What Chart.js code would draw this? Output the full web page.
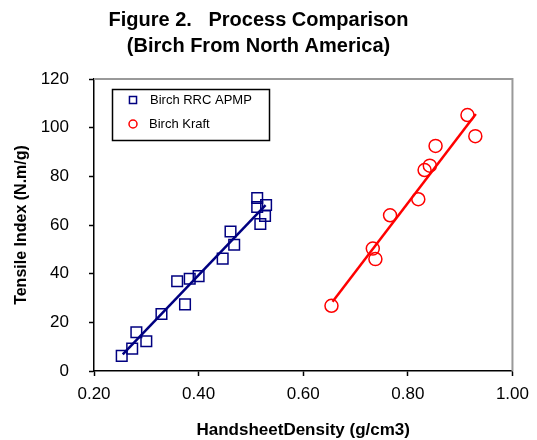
<!DOCTYPE html>
<html>
<head>
    <title>Process Comparison</title>
    <script src="https://cdn.jsdelivr.net/npm/chart.js@4.4.0/dist/chart.umd.min.js"></script>
    <style>
        body { margin: 0; background: #fff; }
        #wrap { width: 537px; height: 440px; }
    </style>
</head>
<body>
    <div id="wrap"><canvas id="chart"></canvas></div>

    <script>
        // Birch RRC APMP (density g/cm3, tensile N.m/g)
        var apmpDensity = [0.253, 0.273, 0.281, 0.300, 0.329, 0.374, 0.359, 0.383, 0.400, 0.446, 0.468, 0.461, 0.512, 0.529, 0.512, 0.527, 0.518];
        var apmpTensile = [6.2, 9.2, 15.9, 12.2, 23.4, 27.4, 36.9, 37.9, 39.0, 46.2, 51.9, 57.3, 71.1, 68.2, 67.4, 63.7, 60.4];
        var apmpFitX = [0.255, 0.528];
        var apmpFitY = [6.8, 68.2];

        // Birch Kraft
        var kraftDensity = [0.654, 0.733, 0.738, 0.766, 0.820, 0.832, 0.842, 0.853, 0.914, 0.929];
        var kraftTensile = [26.8, 50.3, 46.0, 64.0, 70.6, 82.6, 84.4, 92.5, 105.2, 96.5];
        var kraftFitX = [0.656, 0.930];
        var kraftFitY = [28.5, 105.6];

        var xTicks = [0.2, 0.4, 0.6, 0.8, 1.0];
        var yTicks = [0, 20, 40, 60, 80, 100, 120];

        var blue = '#000080';
        var red = '#ff0000';
        var font = '"Liberation Sans", Arial, sans-serif';

        function pts(xs, ys) {
            return xs.map(function (x, i) { return { x: x, y: ys[i] }; });
        }

        // grey frame on top and right of plot area
        var framePlugin = {
            id: 'frame',
            beforeDatasetsDraw: function (chart) {
                var a = chart.chartArea, c = chart.ctx;
                c.save();
                c.strokeStyle = '#999';
                c.lineWidth = 2;
                c.beginPath();
                c.moveTo(a.left, a.top);
                c.lineTo(a.right, a.top);
                c.lineTo(a.right, a.bottom);
                c.stroke();
                c.restore();
            }
        };

        // legend box inside the plot
        var legendPlugin = {
            id: 'boxLegend',
            afterDraw: function (chart) {
                var c = chart.ctx;
                var items = [
                    { label: 'Birch RRC APMP', ds: chart.data.datasets[0] },
                    { label: 'Birch Kraft', ds: chart.data.datasets[1] }
                ];
                c.save();
                c.fillStyle = '#fff';
                c.fillRect(112, 89, 158, 52);
                c.strokeStyle = '#000';
                c.lineWidth = 1.5;
                c.strokeRect(112.5, 89.5, 157, 51);
                c.font = '13px ' + font;
                c.textBaseline = 'middle';
                items.forEach(function (it, i) {
                    var y = 100 + i * 24;
                    c.fillStyle = 'rgba(0,0,0,0)';
                    c.strokeStyle = it.ds.borderColor;
                    c.lineWidth = 1.5;
                    Chart.helpers.drawPoint(c, {
                        pointStyle: it.ds.pointStyle,
                        radius: i === 0 ? 5 : 4,
                        borderWidth: 1.5
                    }, 133, y);
                    c.fillStyle = '#000';
                    c.fillText(it.label, i === 0 ? 150 : 149, y);
                });
                c.restore();
            }
        };

        var ctx = document.getElementById('chart').getContext('2d');
        var chart = new Chart(ctx, {
            type: 'scatter',
            data: {
                datasets: [{
                    label: 'Birch RRC APMP',
                    data: pts(apmpDensity, apmpTensile),
                    pointStyle: 'rect',
                    pointRadius: 7.5,
                    borderColor: blue,
                    borderWidth: 1.5,
                    backgroundColor: 'rgba(0,0,0,0)'
                }, {
                    label: 'Birch Kraft',
                    data: pts(kraftDensity, kraftTensile),
                    pointStyle: 'circle',
                    pointRadius: 6.5,
                    borderColor: red,
                    borderWidth: 1.5,
                    backgroundColor: 'rgba(0,0,0,0)'
                }, {
                    label: 'APMP fit',
                    data: pts(apmpFitX, apmpFitY),
                    showLine: true,
                    pointRadius: 0,
                    borderColor: blue,
                    borderWidth: 2.5
                }, {
                    label: 'Kraft fit',
                    data: pts(kraftFitX, kraftFitY),
                    showLine: true,
                    pointRadius: 0,
                    borderColor: red,
                    borderWidth: 2.5
                }]
            },
            options: {
                responsive: true,
                maintainAspectRatio: false,
                animation: false,
                layout: { padding: { left: 0, right: 20, top: 6, bottom: 0 } },
                plugins: {
                    legend: { display: false },
                    tooltip: { enabled: false },
                    title: {
                        display: true,
                        text: ['Figure 2.   Process Comparison', '(Birch From North America)'],
                        color: '#000',
                        font: { family: font, size: 20, weight: 'bold', lineHeight: 1.3 },
                        padding: { top: 1, bottom: 20 }
                    }
                },
                scales: {
                    x: {
                        type: 'linear',
                        min: 0.2,
                        max: 1.0,
                        afterBuildTicks: function (s) { s.ticks = xTicks.map(function (v) { return { value: v }; }); },
                        afterFit: function (s) { s.height = 69; },
                        grid: { drawOnChartArea: false, drawTicks: true, tickLength: 5, tickColor: '#000', tickWidth: 1.5 },
                        border: { color: '#000', width: 1.5 },
                        ticks: {
                            color: '#000',
                            padding: 8,
                            font: { family: font, size: 17 },
                            callback: function (v) { return v.toFixed(2); }
                        },
                        title: {
                            display: true,
                            text: 'HandsheetDensity (g/cm3)',
                            color: '#000',
                            font: { family: font, size: 17, weight: 'bold' },
                            padding: { top: 10, bottom: -1 }
                        }
                    },
                    y: {
                        min: 0,
                        max: 120,
                        afterBuildTicks: function (s) { s.ticks = yTicks.map(function (v) { return { value: v }; }); },
                        afterFit: function (s) { s.width = 94; },
                        grid: { drawOnChartArea: false, drawTicks: true, tickLength: 5, tickColor: '#000', tickWidth: 1.5 },
                        border: { color: '#000', width: 1.5 },
                        ticks: {
                            color: '#000',
                            padding: 20,
                            font: { family: font, size: 17 }
                        },
                        title: {
                            display: true,
                            text: 'Tensile Index (N.m/g)',
                            color: '#000',
                            font: { family: font, size: 16, weight: 'bold' },
                            padding: { top: 12, bottom: 0 }
                        }
                    }
                }
            },
            plugins: [framePlugin, legendPlugin]
        });
    </script>
</body>
</html>
